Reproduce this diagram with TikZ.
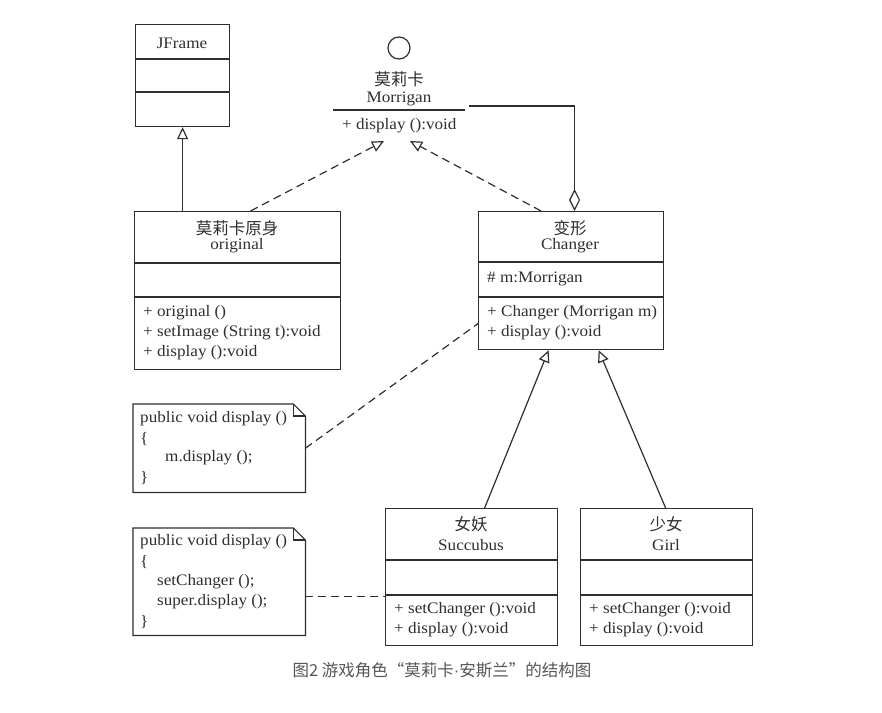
\documentclass[tikz,border=0pt]{standalone}
\usepackage{fontspec}
\setmainfont{Liberation Serif}[FakeStretch=1.07]
\newfontfamily\cjk{Noto Sans CJK SC}
\newfontfamily\capfont{Noto Sans CJK SC}
\newfontfamily\dotfont{Liberation Sans}
\usetikzlibrary{arrows.meta,calc}
\definecolor{ln}{HTML}{2E2E2E}
\definecolor{capc}{HTML}{555555}
\begin{document}
\begin{tikzpicture}[x=1pt,y=-1pt,
  every node/.style={text=ln},
  box/.style={draw=ln, line width=1.2pt, inner sep=0pt, anchor=north west},
  div/.style={draw=ln, line width=1.2pt},
  txt/.style={font=\fontsize{16}{18}\selectfont, inner sep=0pt},
  ltxt/.style={txt, anchor=west},
  ctxt/.style={font=\cjk\fontsize{16.5}{18}\selectfont, inner sep=0pt},
  gen/.style={draw=ln, line width=1.2pt, -{Triangle[open, length=12pt, width=11pt, fill=white]}},
  real/.style={draw=ln, line width=1.2pt, dash pattern=on 8pt off 5pt, -{Triangle[open, length=12pt, width=11pt, fill=white]}},
  agg/.style={draw=ln, line width=1.2pt, -{Diamond[open, length=22pt, width=11pt, fill=white]}},
  dep/.style={draw=ln, line width=1.2pt, dash pattern=on 8pt off 5pt},
  notebox/.style={inner sep=0pt, anchor=north west}
]
\useasboundingbox (0,0) rectangle (882,712);

% JFrame
\node[box, minimum width=94pt, minimum height=102pt] (jf) at (135,24) {};
\draw[div] ([yshift=-35pt]jf.north west) -- ([yshift=-35pt]jf.north east);
\draw[div] ([yshift=-68pt]jf.north west) -- ([yshift=-68pt]jf.north east);
\node[txt] (jft) at (182,43) {JFrame};

% Morrigan interface
\node[draw=ln, line width=1.2pt, circle, minimum size=22pt, inner sep=0pt] (mi) at (399,48) {};
\node[ctxt] (mic) at (399,79) {莫莉卡};
\node[txt] (mie) at (399,99) {Morrigan};
\draw[div] (333,110) -- (465,110);
\node[ltxt] (mim) at (342,126) {+ display ():void};
\coordinate (mlink) at (469,106);
\coordinate (mt1) at (384,141);
\coordinate (mt2) at (410,141);

% original
\node[box, minimum width=206pt, minimum height=158pt] (orig) at (134,211) {};
\draw[div] ([yshift=-52pt]orig.north west) -- ([yshift=-52pt]orig.north east);
\draw[div] ([yshift=-86pt]orig.north west) -- ([yshift=-86pt]orig.north east);
\node[ctxt] (origc) at (237,228) {莫莉卡原身};
\node[txt] (orige) at (237,246) {original};
\node[ltxt] (origm1) at (143,313) {+ original ()};
\node[ltxt] (origm2) at (143,333) {+ setImage (String t):void};
\node[ltxt] (origm3) at (143,353) {+ display ():void};

% Changer
\node[box, minimum width=185pt, minimum height=138pt] (chg) at (478,211) {};
\draw[div] ([yshift=-51pt]chg.north west) -- ([yshift=-51pt]chg.north east);
\draw[div] ([yshift=-86pt]chg.north west) -- ([yshift=-86pt]chg.north east);
\node[ctxt] (chgc) at (570,228) {变形};
\node[txt] (chge) at (570,246) {Changer};
\node[ltxt] (chga) at (487,279) {\# m:Morrigan};
\node[ltxt] (chgm1) at (487,313) {+ Changer (Morrigan m)};
\node[ltxt] (chgm2) at (487,333) {+ display ():void};

% Succubus
\node[box, minimum width=172pt, minimum height=137pt] (suc) at (385,508) {};
\draw[div] ([yshift=-52pt]suc.north west) -- ([yshift=-52pt]suc.north east);
\draw[div] ([yshift=-87pt]suc.north west) -- ([yshift=-87pt]suc.north east);
\node[ctxt] (succ) at (471,524) {女妖};
\node[txt] (suce) at (471,545) {Succubus};
\node[ltxt] (sucm1) at (394,610) {+ setChanger ():void};
\node[ltxt] (sucm2) at (394,630) {+ display ():void};

% Girl
\node[box, minimum width=172pt, minimum height=137pt] (girl) at (580,508) {};
\draw[div] ([yshift=-52pt]girl.north west) -- ([yshift=-52pt]girl.north east);
\draw[div] ([yshift=-87pt]girl.north west) -- ([yshift=-87pt]girl.north east);
\node[ctxt] (girlc) at (666,524) {少女};
\node[txt] (girle) at (666,545) {Girl};
\node[ltxt] (girlm1) at (589,610) {+ setChanger ():void};
\node[ltxt] (girlm2) at (589,630) {+ display ():void};

% Note 1
\node[notebox, minimum width=172pt, minimum height=88pt] (n1) at (133,404) {};
\draw[div] (n1.north west) -- ([xshift=-12pt]n1.north east) -- ([yshift=-12pt]n1.north east)
  -- (n1.south east) -- (n1.south west) -- cycle;
\draw[div] ([xshift=-12pt]n1.north east) -- ([xshift=-12pt,yshift=-12pt]n1.north east) -- ([yshift=-12pt]n1.north east);
\node[ltxt] (n1a) at (140,419) {public void display ()};
\node[ltxt] (n1b) at (140,439) {\{};
\node[ltxt] (n1c) at (165,458) {m.display ();};
\node[ltxt] (n1d) at (140,478) {\}};

% Note 2
\node[notebox, minimum width=172pt, minimum height=107pt] (n2) at (133,528) {};
\draw[div] (n2.north west) -- ([xshift=-12pt]n2.north east) -- ([yshift=-12pt]n2.north east)
  -- (n2.south east) -- (n2.south west) -- cycle;
\draw[div] ([xshift=-12pt]n2.north east) -- ([xshift=-12pt,yshift=-12pt]n2.north east) -- ([yshift=-12pt]n2.north east);
\node[ltxt] (n2a) at (140,542) {public void display ()};
\node[ltxt] (n2b) at (140,562) {\{};
\node[ltxt] (n2c) at (157,582) {setChanger ();};
\node[ltxt] (n2d) at (157,602) {super.display ();};
\node[ltxt] (n2e) at (140,622) {\}};

% connectors
\draw[gen] (orig.north -| jf.south) -- (jf.south);
\draw[real] ([xshift=13pt]orig.north) -- (mt1);
\draw[real] ([xshift=-30pt]chg.north) -- (mt2);
\draw[agg] (mlink) -| ([xshift=3.5pt]chg.north);
\draw[gen] ([xshift=13pt]suc.north) -- ([xshift=-22.5pt]chg.south);
\draw[gen] ([xshift=-1pt]girl.north) -- ([xshift=27.5pt]chg.south);
\draw[dep] (n1.east) -- ([yshift=-43pt]chg.west);
\draw[dep] ([yshift=-14.5pt]n2.east) -- ([yshift=-14.5pt]n2.east -| suc.west);

% caption
\node[font=\capfont\fontsize{16.5}{18}\selectfont, text=capc, inner sep=0pt] (cap) at (442,670) {图2 游戏角色“莫莉卡{\dotfont ·}安斯兰”的结构图};
\end{tikzpicture}
\end{document}
